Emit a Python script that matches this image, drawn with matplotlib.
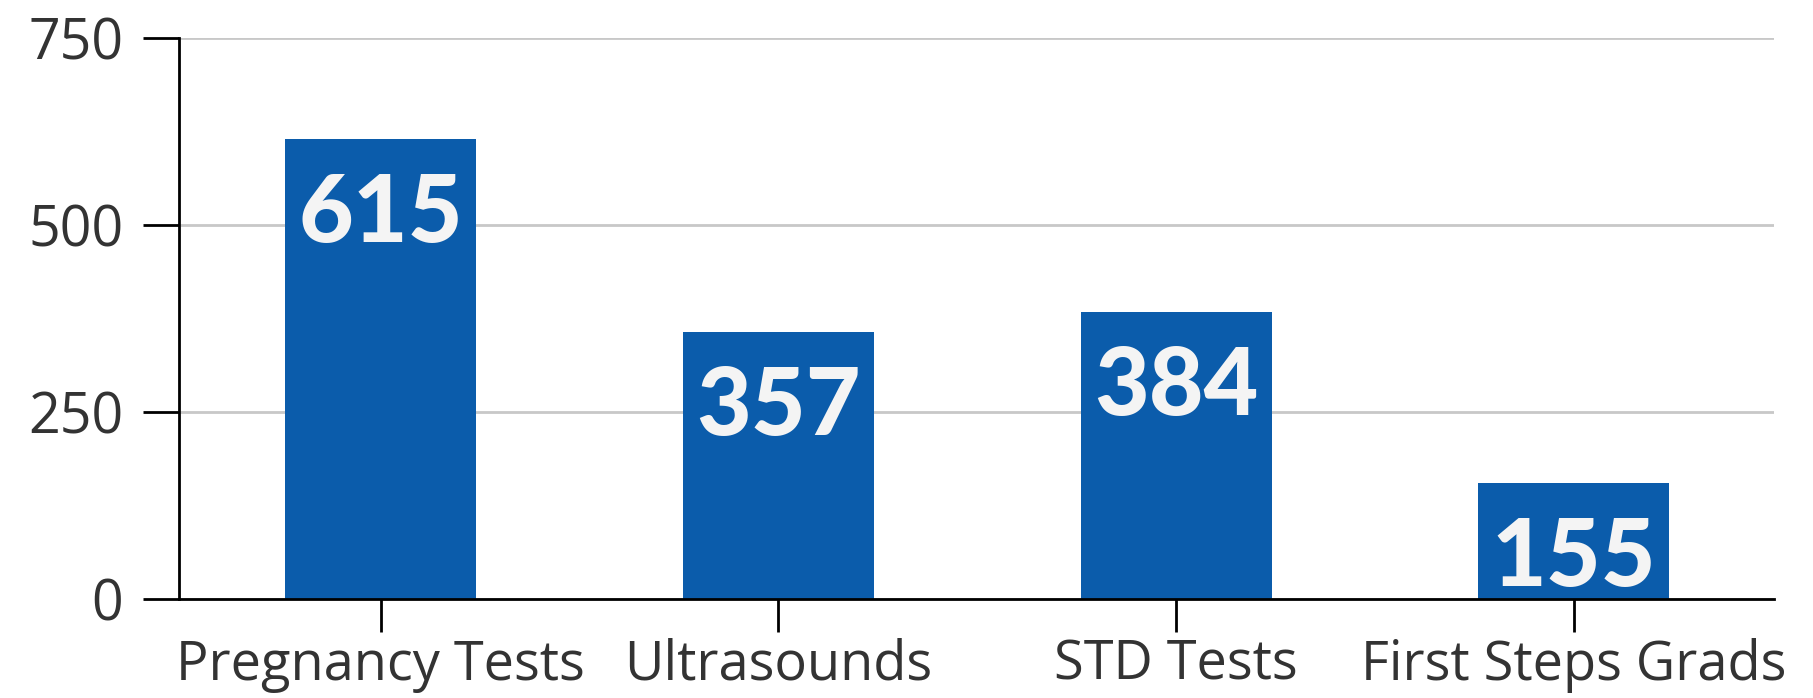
import matplotlib.pyplot as plt

# ---------------- data ----------------
categories = ["Pregnancy Tests", "Ultrasounds", "STD Tests", "First Steps Grads"]
values = [615, 357, 384, 155]
y_ticks = [0, 250, 500, 750]

bar_color = "#0b5cab"
text_color = "#333333"

plt.rcParams['font.family'] = ['Open Sans', 'DejaVu Sans']

fig = plt.figure(figsize=(18.13, 6.98), dpi=100)
ax = fig.add_axes([0.0987, 0.1418, 0.88, 0.8038])

x = list(range(len(categories)))
bars = ax.bar(x, values, width=0.48, color=bar_color, zorder=2)

# Werte in die Balken schreiben
for xi, v in zip(x, values):
    ax.annotate(str(v), (xi, v), xytext=(0, -24), textcoords='offset points',
                ha='center', va='top', fontsize=68, fontweight='black',
                color='#f4f4f4', family=['Lato', 'DejaVu Sans'], zorder=3)

ax.set_xlim(-0.507, 3.504)
ax.set_ylim(0, 750)
ax.set_yticks(y_ticks)
ax.set_xticks(x)
ax.set_xticklabels(categories)

ax.yaxis.grid(True, color='#c8c8c8', linewidth=2, zorder=0)
ax.set_axisbelow(True)

for s in ['top', 'right']:
    ax.spines[s].set_visible(False)
for s in ['left', 'bottom']:
    ax.spines[s].set_linewidth(2)
    ax.spines[s].set_color('black')

ax.tick_params(axis='y', length=26, width=2, color='black', labelsize=40,
               labelcolor=text_color, pad=14)
ax.tick_params(axis='x', length=24, width=2, color='black', labelsize=39,
               labelcolor=text_color, pad=4)

fig.savefig("out.png", dpi=100)
